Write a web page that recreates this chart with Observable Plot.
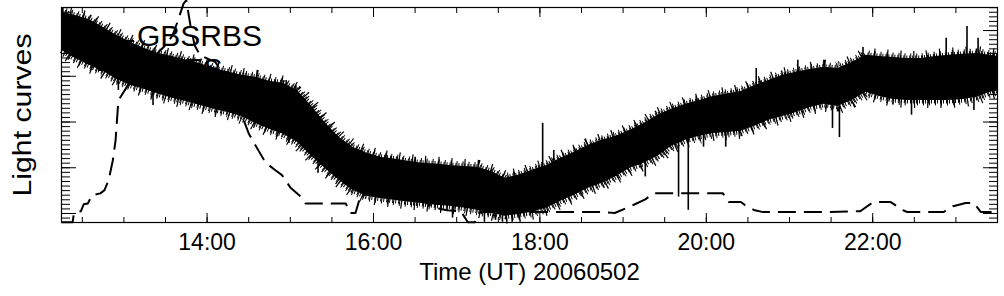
<!DOCTYPE html>
<html>
<head>
<meta charset="utf-8">
<script src="https://cdn.jsdelivr.net/npm/d3@7"></script>
<script src="https://cdn.jsdelivr.net/npm/@observablehq/plot@0.6"></script>
<style>
  html, body { margin: 0; padding: 0; background: #fff; }
  #chart { width: 1004px; height: 296px; }
</style>
</head>
<body>
<div id="chart"></div>
<script>
// ---- Data ----
const dateStr = "2006-05-02";
const xDomain = ["12:15", "23:30"];
const yDomain = [8.03, 55.04];
const yMajorTicks = [10, 20, 30, 40, 50];
const xTitle = "Time (UT) 20060502";
const yTitle = "Light curves";
const seriesNames = ["GBSRBS", "GOES"];

// GBSRBS: envelope of the noisy light curve (upper / lower edge)
const bandTime = ["12:15","12:25","12:35","12:45","12:55","13:05","13:15","13:25","13:35","13:45",
  "13:55","14:05","14:15","14:25","14:35","14:45","14:55","15:05","15:15","15:25",
  "15:35","15:45","15:55","16:05","16:15","16:25","16:35","16:45","16:55","17:05",
  "17:15","17:25","17:35","17:45","17:55","18:05","18:15","18:25","18:35","18:45",
  "18:55","19:05","19:15","19:25","19:35","19:45","19:55","20:05","20:15","20:25",
  "20:35","20:45","20:55","21:05","21:15","21:25","21:35","21:45","21:55","22:05",
  "22:15","22:25","22:35","22:45","22:55","23:05","23:15","23:25","23:30"];
const bandHigh = [54.0,53.3,52.4,50.7,48.9,47.4,46.1,45.0,44.3,43.5,
  42.8,41.6,41.0,40.2,39.8,38.9,38.5,36.9,33.6,29.9,
  26.7,24.5,23.2,22.3,21.9,21.4,21.0,20.8,20.5,20.3,
  20.1,19.2,17.7,18.4,19.5,20.5,22.1,23.4,24.9,26.0,
  26.9,28.2,29.7,31.5,32.8,33.9,34.7,35.6,36.1,36.7,
  38.0,39.1,40.2,40.9,41.5,42.0,41.7,43.0,44.6,44.3,
  44.1,43.9,43.9,44.3,44.6,44.8,45.0,44.6,44.3];
const bandLow = [45.7,43.9,42.4,41.1,39.3,38.0,37.1,36.1,35.2,34.5,
  33.6,32.8,32.1,31.2,29.7,28.4,27.3,25.6,22.7,19.9,
  17.3,15.1,13.8,13.3,12.9,12.5,12.2,11.8,11.6,11.2,
  10.7,10.1,9.4,9.8,10.3,11.2,12.7,14.0,15.5,16.6,
  18.1,19.9,21.0,22.5,24.7,26.0,26.9,27.5,27.7,28.0,
  29.1,30.4,31.2,32.1,33.2,33.9,33.4,34.7,36.5,35.6,
  34.9,34.7,34.7,34.7,34.7,34.9,35.4,36.5,36.9];

// GBSRBS: isolated spikes (time, value inside band, spike tip)
const spikeTime = ["12:16","12:56","13:21","14:57","14:59","15:04","15:20","16:30","16:57","17:20",
  "17:28","17:33","17:40","18:02","18:10","19:16","19:40","19:47","19:58","20:14",
  "20:36","21:06","21:31","21:36","21:53","22:28","22:53","23:08","23:13","23:16"];
const spikeFrom = [50,40,38,34,32,33,24,18,13,14,
  14,14,14,18,18,25,30,30,31,32,
  34,37,37,37,40,39,40,40,40,40];
const spikeTo = [55.0,36.9,33.6,39.1,25.3,38.0,18.8,22.3,9.0,8.1,
  8.5,8.1,8.1,29.7,23.8,18.0,13.6,10.7,24.5,24.5,
  41.7,43.5,28.6,26.6,46.3,31.5,48.3,50.9,32.5,48.3];

// GOES (dashed)
const goesTime = ["12:15","12:23","12:24","12:29","12:31","12:34","12:37","12:43","12:46","12:49",
  "12:52","12:54","12:56","13:05","13:19","13:30","13:35","13:39","13:43","13:45",
  "13:48","13:51","13:55","14:06","14:17","14:30","14:37","14:42","14:49","14:54",
  "15:00","15:07","15:11","15:22","15:40","15:43","15:47","15:51","16:05","16:34",
  "16:45","16:53","17:03","17:08","17:13","17:17","17:32","18:00","18:29","18:44",
  "18:54","19:07","19:16","19:22","20:12","20:16","20:25","20:28","20:35","20:41",
  "21:27","21:51","21:58","22:01","22:13","22:22","22:25","22:51","22:56","22:58",
  "23:07","23:13","23:18","23:30"];
const goesValue = [8.1,8.1,10.1,10.5,12.0,12.2,14.0,14.4,15.1,17.3,
  21.6,26.0,34.7,39.1,43.5,46.8,48.9,52.2,55.9,56.6,
  51.1,46.8,44.6,43.1,38.0,27.5,23.8,21.2,19.5,18.4,
  15.7,13.8,12.2,12.2,12.2,10.1,10.1,14.2,13.8,12.9,
  11.2,10.7,10.5,8.1,8.1,10.3,10.3,10.3,10.3,10.3,
  10.1,11.8,13.1,14.4,14.4,12.5,12.5,11.8,10.7,10.3,
  10.3,10.5,12.0,12.5,12.5,10.7,10.3,10.3,11.2,11.6,
  12.3,12.3,10.3,10.3];

// ---- Build ----
const T = t => new Date(`${dateStr}T${t}:00Z`);
const band = bandTime.map((t, i) => ({t: T(t), hi: bandHigh[i], lo: bandLow[i]}));
const spikes = spikeTime.map((t, i) => ({t: T(t), a: spikeFrom[i], b: spikeTo[i]}));
const goes = goesTime.map((t, i) => ({t: T(t), v: goesValue[i]}));
const d0 = T(xDomain[0]), d1 = T(xDomain[1]);
const xMajor = d3.utcHour.every(2).range(d0, d1);
const xMinor = d3.utcMinute.every(30).range(d0, d1);
const yMinor = d3.range(Math.ceil(yDomain[0]), Math.floor(yDomain[1]) + 1);
const blank = () => "";
const font = "'Liberation Sans', Arial, Helvetica, sans-serif";

// fringe styles that give the band its noisy, spiky edge
const fringe = [
  {strokeWidth: 6, strokeDasharray: "1,2", strokeDashoffset: 0},
  {strokeWidth: 10, strokeDasharray: "1,5", strokeDashoffset: 2},
  {strokeWidth: 15, strokeDasharray: "1.2,12", strokeDashoffset: 5}
];
const fringeMarks = fringe.flatMap(f => ["hi", "lo"].map(k =>
  Plot.line(band, {x: "t", y: k, stroke: "black", strokeLinecap: "butt", ...f})));

const svg = Plot.plot({
  width: 1004,
  height: 296,
  marginLeft: 61,
  marginRight: 7,
  marginTop: 7,
  marginBottom: 74,
  x: {type: "utc", domain: [d0, d1], label: null},
  y: {domain: yDomain, label: null},
  style: {fontFamily: font, background: "white", color: "black"},
  marks: [
    Plot.areaY(band, {x: "t", y1: "lo", y2: "hi", fill: "black"}),
    ...fringeMarks,
    Plot.ruleX(spikes, {x: "t", y1: "a", y2: "b", stroke: "black", strokeWidth: 1.6, strokeLinecap: "butt"}),
    Plot.line(goes, {x: "t", y: "v", stroke: "black", strokeWidth: 2, strokeDasharray: "18,8", strokeLinecap: "butt"}),
    Plot.frame({stroke: "black", strokeWidth: 1.2}),
    Plot.axisX({ticks: xMinor, anchor: "bottom", tickSize: -5, tickFormat: blank, label: null}),
    Plot.axisX({ticks: xMajor, anchor: "bottom", tickSize: -9, tickFormat: blank, label: null}),
    Plot.axisX({ticks: xMinor, anchor: "top", tickSize: -5, tickFormat: blank, label: null}),
    Plot.axisX({ticks: xMajor, anchor: "top", tickSize: -9, tickFormat: blank, label: null}),
    Plot.axisX({ticks: xMajor, anchor: "bottom", tickSize: 0, tickPadding: 11, tickFormat: "%H:%M", fontSize: 23, label: null}),
    Plot.axisY({ticks: yMinor, anchor: "left", tickSize: -9, tickFormat: blank, label: null}),
    Plot.axisY({ticks: yMajorTicks, anchor: "left", tickSize: -15, tickFormat: blank, label: null}),
    Plot.axisY({ticks: yMinor, anchor: "right", tickSize: -9, tickFormat: blank, label: null}),
    Plot.axisY({ticks: yMajorTicks, anchor: "right", tickSize: -15, tickFormat: blank, label: null}),
    Plot.text([xTitle], {text: d => d, frameAnchor: "bottom", textAnchor: "middle", lineAnchor: "middle", dy: 50, fontSize: 24}),
    Plot.text([yTitle], {text: d => d, frameAnchor: "left", textAnchor: "middle", lineAnchor: "middle", rotate: -90, dx: -39, fontSize: 25})
  ]
});

// stretch y title to match the original's wide glyphs
d3.select(svg).selectAll("text").filter(function() { return this.textContent === yTitle; })
  .attr("textLength", 163).attr("lengthAdjust", "spacingAndGlyphs");

// legend (inside the frame, top-left)
const lg = d3.select(svg).append("g")
  .attr("font-family", font).attr("fill", "black").attr("text-anchor", "start");
lg.append("line").attr("x1", 108).attr("x2", 134).attr("y1", 41).attr("y2", 41)
  .attr("stroke", "black").attr("stroke-width", 2);
lg.append("text").attr("x", 137).attr("y", 46).attr("font-size", 30).text(seriesNames[0]);
lg.append("line").attr("x1", 98).attr("x2", 128).attr("y1", 70).attr("y2", 70)
  .attr("stroke", "black").attr("stroke-width", 2).attr("stroke-dasharray", "14,6");
lg.append("text").attr("x", 137).attr("y", 78).attr("font-size", 28)
  .attr("letter-spacing", 1.5).text(seriesNames[1]);

document.getElementById("chart").appendChild(svg);
</script>
</body>
</html>
